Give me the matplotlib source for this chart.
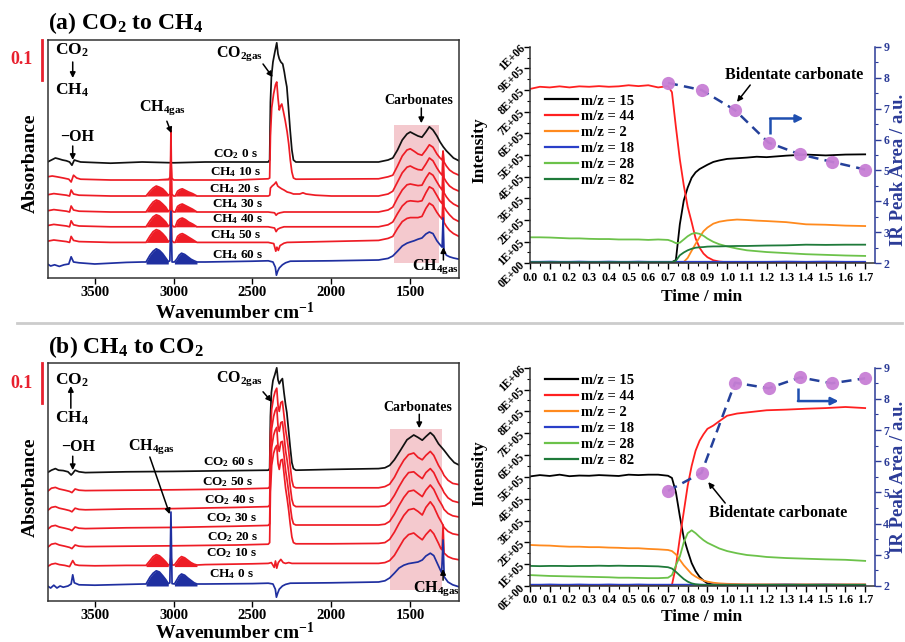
import numpy as np
import matplotlib
matplotlib.use('Agg')
import matplotlib.pyplot as plt
from matplotlib.patches import Rectangle
from matplotlib.lines import Line2D
from matplotlib.transforms import blended_transform_factory

plt.rcParams.update({
    'font.family': ['Liberation Serif', 'DejaVu Serif'],
    'font.weight': 'bold',
    'axes.labelweight': 'bold',
    'mathtext.fontset': 'custom',
    'mathtext.rm': 'Liberation Serif:bold',
    'mathtext.bf': 'Liberation Serif:bold',
    'mathtext.it': 'Liberation Serif:bold:italic',
    'mathtext.default': 'rm',
})

# ---------------- FTIR spectra data (wavenumber cm-1, absorbance in mA relative to stack offset) -------------
A_CO2_0S = [(3800,0),(3775,5),(3750,10),(3730,8),(3705,5),(3680,3),(3660,0),(3645,-8),(3630,5),(3615,3),(3590,0),
            (3400,-3),(3200,0),(3000,-2),(2800,0),(2400,0),(2391,5),(2386,150),(2380,212),(2370,250),(2358,275),
            (2346,298),(2338,270),(2330,258),(2320,250),(2308,245),(2298,225),(2290,205),(2282,188),(2272,138),
            (2261,80),(2250,30),(2240,5),(2225,0),(1700,0),(1640,5),(1610,10),(1580,30),(1550,55),(1520,70),
            (1499,75),(1475,70),(1450,65),(1425,62),(1400,75),(1378,88),(1355,80),(1330,65),(1310,50),(1290,38),
            (1270,28),(1250,20),(1225,10),(1190,3)]
A_CH4_10S = [(3800,8),(3770,10),(3740,8),(3700,5),(3665,2),(3650,-5),(3635,12),(3615,5),(3590,2),(3400,0),(3100,0),
             (3030,2),(3022,8),(3017,50),(3012,5),(3000,0),(2600,0),(2400,3),(2391,5),(2386,110),(2378,180),
             (2366,215),(2354,238),(2346,245),(2338,205),(2330,175),(2322,185),(2314,190),(2304,172),(2292,148),
             (2280,120),(2270,90),(2260,50),(2250,20),(2240,5),(2225,2),(1700,3),(1640,8),(1610,12),(1580,35),
             (1550,60),(1520,75),(1499,78),(1475,72),(1450,65),(1425,62),(1400,75),(1378,88),(1355,82),(1330,65),
             (1310,55),(1297,50),(1291,72),(1285,45),(1270,35),(1250,25),(1225,18),(1190,12)]
A_CH4_20S = [(3800,3),(3760,6),(3720,4),(3680,2),(3660,0),(3650,15),(3635,5),(3600,2),(3400,0),(3200,0),(3175,0),
             (3150,12),(3130,20),(3110,25),(3090,22),(3070,18),(3050,10),(3034,2),(3022,5),(3017,165),(3012,5),
             (3000,0),(2990,0),(2975,12),(2960,16),(2945,18),(2925,14),(2905,10),(2880,6),(2852,0),(2800,0),
             (2400,0),(2390,2),(2386,20),(2375,25),(2360,30),(2350,35),(2340,25),(2330,22),(2315,18),(2300,15),
             (2280,10),(2260,8),(2240,5),(2200,5),(2180,8),(2160,5),(2100,2),(2000,0),(1700,0),(1640,5),(1610,12),
             (1580,35),(1550,58),(1520,72),(1499,75),(1475,70),(1450,66),(1425,65),(1400,80),(1378,95),(1355,88),
             (1330,70),(1310,58),(1297,52),(1291,112),(1285,45),(1270,35),(1250,25),(1225,18),(1190,12)]
A_CH4_30S = [(3800,3),(3760,6),(3720,4),(3680,2),(3660,0),(3650,15),(3635,5),(3600,2),(3400,0),(3175,0),(3150,15),
             (3130,25),(3110,30),(3090,27),(3070,20),(3050,12),(3034,2),(3022,5),(3017,155),(3012,5),(3000,0),
             (2990,0),(2975,14),(2960,18),(2945,20),(2925,16),(2905,12),(2880,7),(2852,0),(2400,0),(2360,-2),
             (2350,-8),(2340,-4),(2325,-2),(2300,0),(1700,0),(1640,5),(1610,12),(1580,35),(1550,55),(1520,68),
             (1499,70),(1475,68),(1450,66),(1425,67),(1400,85),(1378,98),(1355,92),(1330,75),(1310,62),(1297,55),
             (1291,115),(1285,48),(1270,38),(1250,28),(1225,20),(1190,13)]
A_CH4_40S = [(3800,3),(3760,6),(3720,4),(3680,2),(3660,0),(3650,15),(3635,5),(3600,2),(3400,0),(3175,0),(3150,15),
             (3130,25),(3110,30),(3090,27),(3070,20),(3050,12),(3034,2),(3022,5),(3017,145),(3012,5),(3000,0),
             (2990,0),(2975,15),(2960,20),(2945,22),(2925,18),(2905,12),(2880,7),(2852,0),(2400,0),(2360,-3),
             (2350,-12),(2340,-6),(2325,-3),(2300,0),(1700,0),(1640,5),(1610,12),(1580,33),(1550,52),(1520,63),
             (1499,65),(1475,64),(1450,63),(1425,65),(1400,85),(1378,100),(1355,95),(1330,78),(1310,64),(1297,58),
             (1291,120),(1285,50),(1270,40),(1250,30),(1225,20),(1190,13)]
A_CH4_50S = [(3800,3),(3760,6),(3720,4),(3680,2),(3660,0),(3650,15),(3635,5),(3600,2),(3400,0),(3175,0),(3150,16),
             (3130,27),(3110,32),(3090,29),(3070,22),(3050,13),(3034,2),(3022,5),(3017,138),(3012,5),(3000,0),
             (2990,0),(2975,15),(2960,20),(2945,22),(2925,18),(2905,13),(2880,7),(2852,0),(2400,0),(2365,-3),
             (2352,-22),(2345,-12),(2336,-20),(2325,-8),(2300,-2),(2280,0),(1700,5),(1640,10),(1610,15),(1580,35),
             (1550,52),(1520,60),(1499,62),(1475,62),(1450,62),(1425,65),(1400,85),(1378,98),(1355,92),(1330,75),
             (1310,64),(1297,58),(1291,120),(1285,50),(1270,40),(1250,30),(1225,22),(1190,15)]
A_CH4_60S = [(3800,0),(3780,-5),(3755,-2),(3725,-6),(3695,-2),(3665,0),(3650,18),(3635,5),(3600,3),(3500,0),
             (3300,4),(3200,5),(3175,5),(3150,22),(3130,32),(3110,38),(3090,34),(3070,26),(3050,15),(3034,6),
             (3024,8),(3017,132),(3010,5),(2995,5),(2980,12),(2965,22),(2950,27),(2930,24),(2910,18),(2890,12),
             (2870,8),(2852,5),(2800,5),(2500,7),(2400,8),(2370,5),(2355,-8),(2348,-28),(2340,-18),(2330,-10),
             (2310,-2),(2290,3),(2260,7),(2000,8),(1700,10),(1640,14),(1610,20),(1580,32),(1550,45),(1520,52),
             (1499,55),(1475,58),(1450,62),(1425,65),(1400,75),(1378,80),(1355,76),(1330,58),(1310,48),(1297,42),
             (1291,115),(1285,32),(1270,22),(1250,18),(1225,15),(1190,12)]

B_CO2_60S = [(3800,0),(3775,6),(3750,10),(3730,6),(3700,5),(3670,2),(3650,-6),(3640,-2),(3625,6),(3600,2),(3560,0),
             (3300,2),(3000,3),(2600,5),(2400,6),(2391,10),(2386,140),(2380,200),(2370,230),(2358,245),(2346,262),
             (2338,232),(2330,222),(2320,230),(2310,235),(2300,200),(2290,170),(2282,150),(2272,110),(2261,65),
             (2250,25),(2240,10),(2225,6),(2000,8),(1700,10),(1660,12),(1630,18),(1600,32),(1561,56),(1520,82),
             (1477,94),(1450,88),(1423,81),(1400,90),(1372,100),(1350,92),(1320,72),(1285,56),(1250,38),(1220,25),
             (1190,19)]
B_CO2_50S = [(3800,0),(3775,8),(3750,10),(3725,6),(3690,3),(3660,0),(3645,-3),(3625,6),(3600,3),(3560,2),(3300,3),
             (3000,4),(2600,6),(2400,8),(2391,12),(2386,140),(2378,205),(2366,235),(2356,250),(2346,258),(2338,215),
             (2330,200),(2320,222),(2310,225),(2300,190),(2290,155),(2280,130),(2270,100),(2261,65),(2250,28),
             (2240,12),(2225,9),(2000,9),(1700,9),(1660,12),(1630,18),(1600,35),(1570,58),(1540,78),(1510,92),
             (1477,96),(1450,85),(1423,79),(1400,90),(1372,100),(1350,90),(1320,65),(1297,50),(1285,40),(1260,28),
             (1230,20),(1190,17)]
B_CO2_40S = [(3800,0),(3775,8),(3750,10),(3725,6),(3690,3),(3660,0),(3645,-3),(3625,6),(3600,3),(3560,2),(3300,4),
             (3000,5),(2600,8),(2400,10),(2391,14),(2386,140),(2378,205),(2366,235),(2356,250),(2346,258),(2338,212),
             (2330,198),(2320,220),(2310,222),(2300,188),(2290,150),(2280,125),(2270,95),(2261,62),(2250,28),
             (2240,14),(2225,10),(2000,10),(1700,10),(1660,12),(1630,20),(1600,38),(1570,60),(1540,80),(1510,95),
             (1477,97),(1450,88),(1423,80),(1400,95),(1372,105),(1350,95),(1320,70),(1297,55),(1285,45),(1260,32),
             (1230,24),(1190,20)]
B_CO2_30S = [(3800,0),(3775,8),(3750,10),(3725,6),(3690,3),(3660,0),(3645,-3),(3625,6),(3600,3),(3560,2),(3300,4),
             (3000,5),(2600,8),(2400,10),(2391,14),(2386,140),(2378,205),(2366,235),(2356,248),(2346,255),(2338,210),
             (2330,195),(2320,218),(2310,220),(2300,185),(2290,148),(2280,122),(2270,92),(2261,60),(2250,28),
             (2240,14),(2225,11),(2000,11),(1700,11),(1660,13),(1630,20),(1600,38),(1570,60),(1540,80),(1510,95),
             (1477,98),(1450,90),(1423,82),(1400,98),(1372,111),(1350,100),(1320,75),(1297,60),(1285,50),(1260,40),
             (1230,34),(1190,31)]
B_CO2_20S = [(3800,0),(3775,8),(3750,10),(3725,6),(3690,3),(3660,0),(3645,-3),(3625,6),(3600,3),(3560,2),(3300,3),
             (3000,4),(2600,6),(2400,8),(2391,12),(2386,140),(2378,205),(2366,235),(2356,248),(2346,255),(2338,210),
             (2330,195),(2320,218),(2310,220),(2300,185),(2290,148),(2280,122),(2270,92),(2261,60),(2250,26),
             (2240,12),(2225,9),(2000,9),(1700,10),(1660,12),(1630,20),(1600,38),(1570,60),(1540,80),(1510,94),
             (1477,97),(1450,90),(1423,81),(1400,100),(1372,114),(1350,102),(1320,76),(1297,60),(1285,50),(1260,40),
             (1230,34),(1190,31)]
B_CO2_10S = [(3800,0),(3775,6),(3750,8),(3725,5),(3690,3),(3660,0),(3640,15),(3625,5),(3600,3),(3500,2),(3300,3),
             (3190,3),(3175,3),(3150,15),(3130,25),(3110,30),(3090,27),(3070,20),(3050,12),(3034,4),(3024,5),
             (3017,25),(3010,4),(2995,4),(2980,12),(2965,20),(2950,25),(2930,22),(2910,16),(2890,10),(2870,6),
             (2852,4),(2800,5),(2500,7),(2400,8),(2380,10),(2362,-2),(2354,14),(2346,-4),(2336,10),(2320,18),
             (2305,10),(2290,8),(2270,10),(2250,8),(2000,8),(1700,8),(1660,10),(1630,15),(1600,28),(1570,48),
             (1540,68),(1510,80),(1477,84),(1450,75),(1423,67),(1400,80),(1372,92),(1350,82),(1320,58),(1305,45),
             (1297,42),(1291,104),(1285,34),(1260,25),(1230,20),(1190,17)]
B_CH4_0S = [(3800,0),(3780,-5),(3760,2),(3740,-5),(3720,0),(3700,-3),(3670,0),(3650,5),(3640,28),(3630,8),(3600,3),
            (3500,2),(3300,4),(3190,5),(3175,5),(3150,22),(3130,32),(3110,38),(3090,35),(3070,26),(3050,16),(3034,6),
            (3024,8),(3017,185),(3010,6),(2995,5),(2980,15),(2965,25),(2950,30),(2930,27),(2910,20),(2890,14),
            (2870,8),(2852,5),(2800,5),(2500,6),(2400,7),(2370,5),(2355,-8),(2348,-28),(2340,-18),(2330,-8),
            (2310,0),(2290,4),(2260,7),(2000,8),(1700,10),(1660,13),(1630,20),(1600,32),(1570,45),(1540,52),
            (1510,56),(1480,58),(1450,60),(1423,65),(1400,75),(1372,82),(1350,76),(1320,50),(1300,33),(1291,115),
            (1284,23),(1260,10),(1230,3),(1190,-2)]

# stack offsets (mA)
A_OFFSETS = [290, 245, 205, 165, 128, 89, 35]
B_OFFSETS = [321, 274, 226, 179, 134, 86, 37.5]
A_LABELS = ['CO$_2$ 0 s', 'CH$_4$ 10 s', 'CH$_4$ 20 s', 'CH$_4$ 30 s', 'CH$_4$ 40 s', 'CH$_4$ 50 s', 'CH$_4$ 60 s']
B_LABELS = ['CO$_2$ 60 s', 'CO$_2$ 50 s', 'CO$_2$ 40 s', 'CO$_2$ 30 s', 'CO$_2$ 20 s', 'CO$_2$ 10 s', 'CH$_4$ 0 s']
A_LABEL_POS = [(2611, 310), (2604, 264), (2611, 222), (2592, 185), (2592, 147), (2604, 106), (2592, 57)]
B_LABEL_POS = [(2649, 348), (2655, 298), (2642, 252), (2630, 207), (2623, 160), (2630, 120), (2636, 67)]

# ---------------- Mass spectrometry data (time / min, intensity in 1E+05) ----------------
T = [0.00, 0.05, 0.10, 0.15, 0.20, 0.25, 0.30, 0.35, 0.40, 0.45, 0.50, 0.55, 0.60, 0.65, 0.70,
     0.72, 0.74, 0.76, 0.78, 0.80, 0.82, 0.84, 0.86, 0.88, 0.90, 0.93, 0.96, 1.00,
     1.05, 1.10, 1.15, 1.20, 1.30, 1.40, 1.50, 1.60, 1.70]

a_mz15 = [0.05, 0.05, 0.06, 0.05, 0.05, 0.06, 0.05, 0.05, 0.06, 0.05, 0.05, 0.06, 0.05, 0.05, 0.05,
          0.05, 0.15, 1.80, 2.90, 3.50, 3.95, 4.20, 4.35, 4.45, 4.55, 4.68, 4.75, 4.82,
          4.85, 4.88, 4.92, 4.90, 4.97, 5.02, 4.98, 5.02, 5.03]
a_mz44 = [8.05, 8.15, 8.12, 8.17, 8.12, 8.17, 8.15, 8.18, 8.15, 8.17, 8.22, 8.18, 8.22, 8.12, 8.18,
          7.90, 6.30, 4.80, 3.60, 2.60, 1.90, 1.15, 0.72, 0.45, 0.28, 0.14, 0.08, 0.05,
          0.05, 0.05, 0.05, 0.05, 0.05, 0.05, 0.05, 0.05, 0.05]
a_mz2 = [0.05, 0.05, 0.05, 0.05, 0.05, 0.05, 0.05, 0.05, 0.05, 0.05, 0.05, 0.05, 0.05, 0.05, 0.05,
         0.05, 0.05, 0.05, 0.06, 0.25, 0.58, 0.90, 1.20, 1.48, 1.65, 1.83, 1.92, 1.98,
         2.02, 2.00, 1.97, 1.95, 1.90, 1.80, 1.78, 1.74, 1.72]
a_mz18 = [0.07, 0.07, 0.08, 0.07, 0.07, 0.08, 0.07, 0.07, 0.08, 0.07, 0.07, 0.08, 0.07, 0.07, 0.07,
          0.07, 0.07, 0.07, 0.07, 0.07, 0.07, 0.07, 0.07, 0.07, 0.07, 0.07, 0.07, 0.07,
          0.07, 0.07, 0.07, 0.07, 0.08, 0.07, 0.08, 0.07, 0.07]
a_mz28 = [1.20, 1.20, 1.19, 1.17, 1.15, 1.15, 1.13, 1.12, 1.12, 1.10, 1.10, 1.10, 1.08, 1.10, 1.08,
          1.02, 0.93, 0.95, 1.10, 1.25, 1.36, 1.40, 1.36, 1.27, 1.14, 0.99, 0.88, 0.78,
          0.68, 0.60, 0.56, 0.52, 0.47, 0.42, 0.39, 0.36, 0.34]
a_mz82 = [0.05, 0.05, 0.05, 0.05, 0.05, 0.05, 0.05, 0.05, 0.05, 0.05, 0.05, 0.05, 0.05, 0.05, 0.05,
          0.05, 0.12, 0.37, 0.50, 0.60, 0.67, 0.72, 0.74, 0.75, 0.77, 0.78, 0.78, 0.79,
          0.80, 0.80, 0.81, 0.82, 0.83, 0.86, 0.85, 0.86, 0.86]

b_mz15 = [5.02, 5.08, 5.04, 5.10, 5.03, 5.06, 5.05, 5.08, 5.06, 5.04, 5.10, 5.08, 5.10, 5.10, 5.05,
          4.95, 4.30, 3.20, 2.20, 1.60, 1.05, 0.68, 0.42, 0.25, 0.12, 0.07, 0.05, 0.05,
          0.05, 0.05, 0.05, 0.05, 0.05, 0.05, 0.05, 0.05, 0.05]
b_mz44 = [0.04, 0.04, 0.04, 0.04, 0.04, 0.04, 0.04, 0.04, 0.04, 0.04, 0.04, 0.04, 0.04, 0.04, 0.04,
          0.05, 0.90, 2.20, 3.40, 4.60, 5.50, 6.20, 6.65, 6.95, 7.20, 7.35, 7.55, 7.80,
          7.90, 7.95, 8.00, 8.05, 8.08, 8.12, 8.15, 8.20, 8.15]
b_mz2 = [1.88, 1.86, 1.85, 1.82, 1.80, 1.80, 1.78, 1.78, 1.76, 1.75, 1.73, 1.73, 1.70, 1.68, 1.65,
         1.60, 1.45, 1.20, 0.95, 0.75, 0.55, 0.43, 0.33, 0.25, 0.20, 0.15, 0.12, 0.10,
         0.09, 0.08, 0.08, 0.08, 0.08, 0.08, 0.08, 0.08, 0.08]
b_mz18 = [0.06, 0.06, 0.07, 0.06, 0.06, 0.07, 0.06, 0.06, 0.07, 0.06, 0.06, 0.07, 0.06, 0.06, 0.06,
          0.06, 0.06, 0.06, 0.06, 0.06, 0.06, 0.06, 0.06, 0.06, 0.06, 0.06, 0.06, 0.06,
          0.06, 0.06, 0.06, 0.06, 0.07, 0.06, 0.07, 0.06, 0.06]
b_mz28 = [0.50, 0.48, 0.46, 0.45, 0.44, 0.43, 0.42, 0.41, 0.40, 0.38, 0.38, 0.37, 0.36, 0.36, 0.38,
          0.50, 0.95, 1.35, 2.00, 2.42, 2.55, 2.42, 2.25, 2.10, 1.98, 1.85, 1.72, 1.60,
          1.50, 1.42, 1.38, 1.33, 1.28, 1.25, 1.22, 1.20, 1.15]
b_mz82 = [0.92, 0.91, 0.92, 0.92, 0.91, 0.92, 0.92, 0.93, 0.92, 0.93, 0.92, 0.92, 0.91, 0.90, 0.86,
          0.80, 0.65, 0.48, 0.32, 0.20, 0.12, 0.08, 0.06, 0.05, 0.05, 0.05, 0.05, 0.05,
          0.05, 0.05, 0.05, 0.05, 0.05, 0.05, 0.05, 0.05, 0.05]

MZ_LABELS = ['m/z = 15', 'm/z = 44', 'm/z = 2', 'm/z = 18', 'm/z = 28', 'm/z = 82']
MZ_COLORS = ['#000000', '#ff2020', '#ff8a1e', '#2a3fc8', '#6cc24a', '#1f7a3a']

IR_T = [0.70, 0.87, 1.04, 1.21, 1.37, 1.53, 1.70]
a_ir = [7.83, 7.60, 6.95, 5.90, 5.52, 5.28, 5.03]
b_ir = [5.05, 5.63, 8.52, 8.34, 8.69, 8.50, 8.66]

LEFT_TICK_LABELS = ['0E+00', '1E+05', '2E+05', '3E+05', '4E+05', '5E+05',
                    '6E+05', '7E+05', '8E+05', '9E+05', '1E+06']

# ---------------- figure ----------------
W, H = 905, 642
fig = plt.figure(figsize=(W / 100, H / 100), dpi=100)


def fx(x):
    return x / W


def fy(y):
    return 1 - y / H


RED = '#ee1c25'
BLUE_SP = '#1f2fa0'
SPINE = '#333333'
IRBLUE = '#2b3b97'


def spectra_panel(rect, data, offsets, labels, label_pos, colors, order, pink):
    ax = fig.add_axes(rect)
    ax.set_xlim(3800, 1190)
    ax.set_ylim(0, 595)
    ax.add_patch(Rectangle((pink[0], pink[2]), pink[1] - pink[0], pink[3] - pink[2],
                           facecolor='#f4c9ce', edgecolor='none', zorder=0))
    for i in order:
        wn = np.array([p[0] for p in data[i]], dtype=float)
        rel = np.array([p[1] for p in data[i]], dtype=float)
        y = offsets[i] + rel
        ax.plot(wn, y, color=colors[i], lw=1.25, zorder=2 + i * 0.01, solid_joinstyle='round')
        for lo, hi in ((3030, 3180), (2850, 2995)):
            m = (wn >= lo) & (wn <= hi)
            if m.sum() > 1:
                ax.fill_between(wn[m], offsets[i], y[m], color=colors[i], lw=0,
                                zorder=2 + i * 0.01)
    for lab, (xx, yy) in zip(labels, label_pos):
        ax.text(xx, yy, lab, ha='center', va='center', fontsize=9.5, fontweight='bold')
    ax.set_yticks([])
    ax.set_xticks([3500, 3000, 2500, 2000, 1500])
    ax.tick_params(axis='x', direction='out', length=4, width=1, labelsize=10.5, pad=2)
    for s in ax.spines.values():
        s.set_color(SPINE)
        s.set_linewidth(1.1)
    return ax


def arrow(ax, start, end, color='black', lw=1.1, ms=8):
    ax.annotate('', xy=end, xytext=start,
                arrowprops=dict(arrowstyle='-|>', color=color, lw=lw, mutation_scale=ms,
                                shrinkA=0, shrinkB=0))


# ---- panel (a) spectra
a_colors = ['#111111', RED, RED, RED, RED, RED, BLUE_SP]
ax_a = spectra_panel([fx(47.5), fy(278), fx(459) - fx(47.5), (278 - 40) / H],
                     [A_CO2_0S, A_CH4_10S, A_CH4_20S, A_CH4_30S, A_CH4_40S, A_CH4_50S, A_CH4_60S],
                     A_OFFSETS, A_LABELS, A_LABEL_POS, a_colors, [0, 1, 2, 3, 4, 5, 6],
                     (1600, 1315, 37.5, 382.5))
# ---- panel (b) spectra
b_colors = ['#111111', RED, RED, RED, RED, RED, BLUE_SP]
ax_b = spectra_panel([fx(47.5), fy(601), fx(459) - fx(47.5), (601 - 363) / H],
                     [B_CO2_60S, B_CO2_50S, B_CO2_40S, B_CO2_30S, B_CO2_20S, B_CO2_10S, B_CH4_0S],
                     B_OFFSETS, B_LABELS, B_LABEL_POS, b_colors, [0, 1, 2, 3, 4, 5, 6],
                     (1630, 1297, 27.5, 429))

for ax, top_lab, bot_lab, ytop, ybot in ((ax_a, 'CO$_2$', 'CH$_4$', 570, 470),
                                         (ax_b, 'CO$_2$', 'CH$_4$', 552.5, 457.5)):
    ax.text(3645, ytop, top_lab, ha='center', va='center', fontsize=12.5)
    ax.text(3645, ybot, bot_lab, ha='center', va='center', fontsize=12.5)
    tr = blended_transform_factory(ax.transAxes, ax.transData)
    ax.plot([-0.0134, -0.0134], [595, 495], color='#e8202e', lw=2, transform=tr, clip_on=False)
    ax.text(-0.064, 545, '0.1', color='#e8202e', fontsize=13, ha='center', va='center', transform=tr)

# panel a annotations
arrow(ax_a, (3640, 540), (3640, 500))
ax_a.text(3611, 352, '\u2212OH', ha='center', va='center', fontsize=11.5)
arrow(ax_a, (3640, 330), (3640, 295))
ax_a.text(3071, 425, 'CH$_{4gas}$', ha='center', va='center', fontsize=11.5)
arrow(ax_a, (3043, 392), (3014, 362))
ax_a.text(2582, 562, 'CO$_{2gas}$', ha='center', va='center', fontsize=11.5)
arrow(ax_a, (2433, 535), (2372, 502))
ax_a.text(1442, 445, 'Carbonates', ha='center', va='center', fontsize=10)
arrow(ax_a, (1429, 425), (1429, 387))
ax_a.text(1340, 29, 'CH$_{4gas}$', ha='center', va='center', fontsize=11.5)
arrow(ax_a, (1289, 45), (1289, 77))

# panel b annotations
arrow(ax_b, (3652, 482), (3652, 537.5))
ax_b.text(3608, 386, '\u2212OH', ha='center', va='center', fontsize=11.5)
arrow(ax_b, (3640, 362), (3640, 327))
ax_b.text(3141, 386, 'CH$_{4gas}$', ha='center', va='center', fontsize=11.5)
arrow(ax_b, (3151, 360), (3025, 217))
ax_b.text(2579, 557, 'CO$_{2gas}$', ha='center', va='center', fontsize=11.5)
arrow(ax_b, (2433, 523), (2378, 498))
ax_b.text(1454, 485, 'Carbonates', ha='center', va='center', fontsize=10)
arrow(ax_b, (1442, 467), (1442, 432))
ax_b.text(1334, 32, 'CH$_{4gas}$', ha='center', va='center', fontsize=11.5)
arrow(ax_b, (1291, 52), (1291, 80))

# titles & axis labels of spectra
fig.text(fx(48), fy(29), '(a) CO$_2$ to CH$_4$', fontsize=17, ha='left', va='baseline')
fig.text(fx(48), fy(353), '(b) CH$_4$ to CO$_2$', fontsize=17, ha='left', va='baseline')
for yc in (163, 487):
    fig.text(fx(30), fy(yc), 'Absorbance', rotation=90, fontsize=14, ha='center', va='center')
for yc in (312, 633):
    fig.text(fx(235), fy(yc), 'Wavenumber cm$^{-1}$', fontsize=14, ha='center', va='center')


# ---- MS panels
def ms_panel(rect, series, ir, arrow_path, bid_text, bid_arrow, legend_top):
    ax = fig.add_axes(rect)
    for ys, c, lab in zip(series, MZ_COLORS, MZ_LABELS):
        ax.plot(T, ys, color=c, lw=1.3, label=lab)
    ax.set_xlim(0, 1.75)
    ax.set_ylim(0, 10)
    ax.set_yticks(range(11))
    ax.set_yticklabels(LEFT_TICK_LABELS)
    ax.set_yticks(np.arange(0.5, 10, 1.0), minor=True)
    xt = [round(0.1 * k, 1) for k in range(18)]
    ax.set_xticks(xt)
    ax.set_xticklabels(['%.1f' % v for v in xt])
    ax.set_xticks([round(0.05 + 0.1 * k, 2) for k in range(17)], minor=True)
    ax.tick_params(axis='both', which='major', direction='out', length=4, width=1, labelsize=8.7, pad=2)
    ax.tick_params(axis='both', which='minor', direction='out', length=2, width=0.8)
    ax.tick_params(axis='y', labelsize=8.4, pad=1)
    for lab in ax.get_yticklabels():
        lab.set_rotation(45)
        lab.set_ha('right')
        lab.set_va('center')
        lab.set_rotation_mode('anchor')
    ax.spines['top'].set_visible(False)
    ax.spines['right'].set_visible(False)
    for s in ('left', 'bottom'):
        ax.spines[s].set_color(SPINE)
        ax.spines[s].set_linewidth(1.1)
    ax.legend(loc='upper left', bbox_to_anchor=(0.043, legend_top), frameon=False,
              prop={'weight': 'bold', 'size': 10.5}, handlelength=2.3, handletextpad=0.15,
              labelspacing=0.18, borderaxespad=0, borderpad=0)
    for ln in ax.get_legend().get_lines():
        ln.set_linewidth(1.6)
    ax2 = ax.twinx()
    ax2.set_ylim(2, 9)
    ax2.set_yticks(range(2, 10))
    ax2.set_yticks(np.arange(2.5, 9, 1.0), minor=True)
    ax2.tick_params(axis='y', which='major', direction='out', length=4, width=1, colors=IRBLUE,
                    labelsize=8.5, pad=2)
    ax2.tick_params(axis='y', which='minor', direction='out', length=2, width=0.8, colors=IRBLUE)
    for s in ('top', 'left', 'bottom'):
        ax2.spines[s].set_visible(False)
    ax2.spines['right'].set_color(IRBLUE)
    ax2.spines['right'].set_linewidth(1.1)
    ax2.plot(IR_T, ir, color='#24409a', lw=1.8, ls=(0, (4, 2.5)), zorder=3)
    ax2.plot(IR_T, ir, ls='none', marker='o', ms=9.5, mfc='#c77fd5', mec='none', alpha=0.95, zorder=4)
    xs = [p[0] for p in arrow_path]
    ys = [p[1] for p in arrow_path]
    ax2.plot(xs[:-1], ys[:-1], color='#1f4fb0', lw=1.8, solid_capstyle='butt')
    ax2.annotate('', xy=arrow_path[-1], xytext=arrow_path[-2],
                 arrowprops=dict(arrowstyle='-|>', color='#1f4fb0', lw=1.8, mutation_scale=11,
                                 shrinkA=0, shrinkB=0))
    ax.text(bid_text[0], bid_text[1], 'Bidentate carbonate', ha='center', va='center', fontsize=11.5,
            zorder=6)
    ax.annotate('', xy=bid_arrow[1], xytext=bid_arrow[0],
                arrowprops=dict(arrowstyle='-|>', color='black', lw=1.1, mutation_scale=8,
                                shrinkA=0, shrinkB=0), zorder=6)
    return ax, ax2


ms_panel([fx(530), fy(263.3), fx(875) - fx(530), (263.3 - 46.7) / H],
         [a_mz15, a_mz44, a_mz2, a_mz18, a_mz28, a_mz82], a_ir,
         [(1.218, 6.19), (1.218, 6.68), (1.387, 6.68)],
         (1.34, 8.69), ((1.117, 8.23), (1.05, 7.45)), 0.78)
ms_panel([fx(530), fy(586), fx(875) - fx(530), (586 - 367.7) / H],
         [b_mz15, b_mz44, b_mz2, b_mz18, b_mz28, b_mz82], b_ir,
         [(1.359, 8.34), (1.359, 7.93), (1.565, 7.93)],
         (1.259, 3.34), ((0.99, 3.8), (0.904, 4.76)), 0.97)

for yc in (150, 473):
    fig.text(fx(479), fy(yc), 'Intensity', rotation=90, fontsize=12.5, ha='center', va='center')
for yc in (170, 477):
    fig.text(fx(898), fy(yc), 'IR Peak Area / a.u.', rotation=90, fontsize=13.5, ha='center',
             va='center', color=IRBLUE)
for yc in (297, 617):
    fig.text(fx(702), fy(yc), 'Time / min', fontsize=12.5, ha='center', va='center')

fig.add_artist(Line2D([fx(17), fx(902)], [fy(322.7), fy(322.7)], color='#cccccc', lw=2))

fig.savefig('out.png', dpi=100)
